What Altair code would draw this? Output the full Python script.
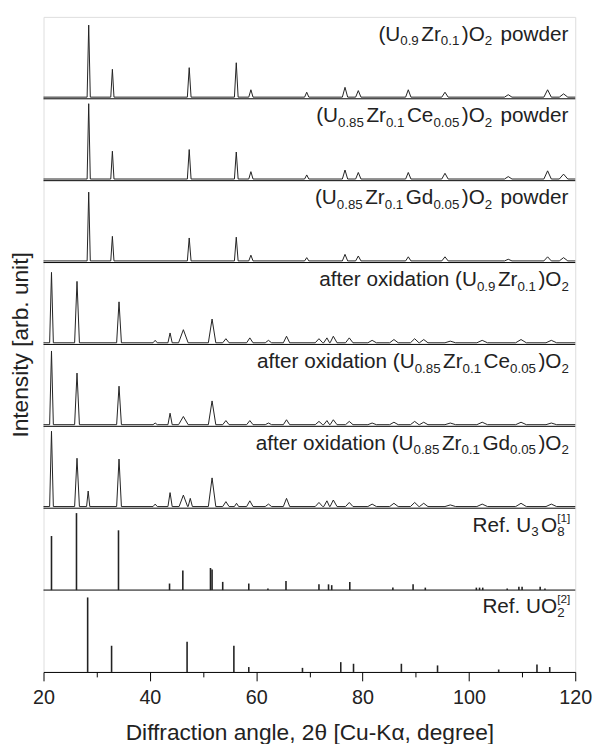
import altair as alt
import pandas as pd

# ---------------- data ----------------
# powder patterns: peak centre [deg], height [fraction of panel], half-width [deg]
pw_c = [28.5, 32.95, 47.4, 56.25, 59.0, 69.5, 76.7, 79.2, 88.6, 95.5, 107.4, 114.8, 117.8]
pw_w = [0.3, 0.3, 0.35, 0.35, 0.4, 0.4, 0.5, 0.5, 0.5, 0.6, 0.7, 0.7, 0.8]
p1_h = [0.88, 0.34, 0.36, 0.42, 0.09, 0.06, 0.12, 0.08, 0.09, 0.06, 0.03, 0.09, 0.04]
p2_h = [0.92, 0.34, 0.36, 0.33, 0.09, 0.05, 0.11, 0.08, 0.08, 0.07, 0.03, 0.10, 0.06]
p3_h = [0.84, 0.30, 0.28, 0.29, 0.07, 0.04, 0.08, 0.06, 0.05, 0.05, 0.02, 0.05, 0.04]

# oxidised patterns
ox_c = [21.5, 26.3, 34.2, 41.0, 43.8, 46.3, 51.7, 54.3, 58.8, 62.3, 65.7, 71.8,
        73.3, 74.5, 77.5, 81.8, 85.9, 89.8, 91.5, 96.5, 102.5, 109.8, 115.5]
ox_w = [0.35, 0.45, 0.45, 0.4, 0.4, 0.9, 0.7, 0.6, 0.6, 0.6, 0.6, 0.7,
        0.6, 0.7, 0.7, 0.8, 0.8, 0.8, 0.8, 1.0, 1.0, 1.0, 1.0]
p4_h = [0.86, 0.75, 0.50, 0.03, 0.12, 0.16, 0.29, 0.05, 0.06, 0.03, 0.08, 0.05,
        0.06, 0.08, 0.06, 0.03, 0.04, 0.05, 0.04, 0.02, 0.03, 0.04, 0.03]
p5_h = [0.90, 0.63, 0.47, 0.02, 0.14, 0.10, 0.29, 0.05, 0.05, 0.02, 0.06, 0.04,
        0.05, 0.06, 0.04, 0.02, 0.03, 0.04, 0.03, 0.02, 0.03, 0.03, 0.02]
p6_c = [21.5, 26.3, 28.4, 34.2, 41.0, 43.8, 46.3, 47.6, 51.7, 54.3, 56.3, 58.8, 62.3,
        65.7, 71.8, 73.3, 74.5, 77.5, 81.8, 85.9, 89.8, 91.5, 96.5, 102.5, 109.8, 115.5]
p6_w = [0.35, 0.45, 0.3, 0.45, 0.4, 0.4, 0.8, 0.4, 0.7, 0.6, 0.4, 0.6, 0.6,
        0.6, 0.7, 0.6, 0.7, 0.7, 0.8, 0.8, 0.8, 0.8, 1.0, 1.0, 1.0, 1.0]
p6_h = [0.92, 0.59, 0.19, 0.58, 0.03, 0.17, 0.14, 0.10, 0.35, 0.06, 0.04, 0.07, 0.03,
        0.10, 0.05, 0.07, 0.08, 0.05, 0.03, 0.04, 0.05, 0.04, 0.02, 0.03, 0.04, 0.03]

# reference stick patterns
u3o8_c = [21.5, 26.2, 34.1, 43.7, 46.2, 51.4, 51.7, 53.7, 58.6, 62.2, 65.6, 71.8, 73.6,
          74.2, 77.6, 85.7, 89.5, 91.8, 101.4, 102.0, 102.6, 107.2, 109.4, 110.0, 113.4, 114.3]
u3o8_h = [0.66, 0.94, 0.73, 0.08, 0.24, 0.27, 0.25, 0.10, 0.08, 0.02, 0.11, 0.07, 0.07,
          0.06, 0.10, 0.03, 0.07, 0.03, 0.03, 0.03, 0.03, 0.02, 0.04, 0.04, 0.04, 0.02]
uo2_c = [28.3, 32.8, 47.0, 55.8, 58.6, 68.7, 75.9, 78.3, 87.3, 94.1, 105.6, 112.8, 115.2]
uo2_h = [0.91, 0.32, 0.37, 0.32, 0.06, 0.05, 0.12, 0.10, 0.10, 0.08, 0.03, 0.09, 0.06]

x_ticks = list(range(20, 121, 10))
separators = [1, 2, 3, 4, 5, 6, 7]

# panel labels: (text, kind)  m = main, s = subscript, p = superscript stacked on previous subscript
labels = [
    [("(U", "m"), ("0.9", "s"), ("Zr", "m"), ("0.1", "s"), (")O", "m"), ("2", "s"), (" powder", "m")],
    [("(U", "m"), ("0.85", "s"), ("Zr", "m"), ("0.1", "s"), ("Ce", "m"), ("0.05", "s"), (")O", "m"), ("2", "s"), (" powder", "m")],
    [("(U", "m"), ("0.85", "s"), ("Zr", "m"), ("0.1", "s"), ("Gd", "m"), ("0.05", "s"), (")O", "m"), ("2", "s"), (" powder", "m")],
    [("after oxidation (U", "m"), ("0.9", "s"), ("Zr", "m"), ("0.1", "s"), (")O", "m"), ("2", "s")],
    [("after oxidation (U", "m"), ("0.85", "s"), ("Zr", "m"), ("0.1", "s"), ("Ce", "m"), ("0.05", "s"), (")O", "m"), ("2", "s")],
    [("after oxidation (U", "m"), ("0.85", "s"), ("Zr", "m"), ("0.1", "s"), ("Gd", "m"), ("0.05", "s"), (")O", "m"), ("2", "s")],
    [("Ref. U", "m"), ("3", "s"), ("O", "m"), ("8", "s"), ("[1]", "p")],
    [("Ref. UO", "m"), ("2", "s"), ("[2]", "p")],
]
right_margin_px = [7, 7, 7, 4, 4, 4, 5, 5]

# ---------------- layout constants ----------------
W, H = 539, 664
PANEL_PX = H / 8.0
PPU = W / 100.0
S, SS, SP = 21, 13.5, 12
GAP = 2.5
BASE = 0.02

# ---------------- build tables ----------------
line_rows = []
def add_pattern(panel, cs, hs, ws):
    off = 7 - panel
    pts = [(20.0, off + BASE), (120.0, off + BASE)]
    for c, h, w in zip(cs, hs, ws):
        pts += [(c - w, off + BASE), (c, off + BASE + h), (c + w, off + BASE)]
    for x, y in sorted(pts):
        line_rows.append({"panel": panel, "x": x, "y": y})

add_pattern(0, pw_c, p1_h, pw_w)
add_pattern(1, pw_c, p2_h, pw_w)
add_pattern(2, pw_c, p3_h, pw_w)
add_pattern(3, ox_c, p4_h, ox_w)
add_pattern(4, ox_c, p5_h, ox_w)
add_pattern(5, p6_c, p6_h, p6_w)
lines_df = pd.DataFrame(line_rows)

stick_rows = []
for panel, cs, hs in [(6, u3o8_c, u3o8_h), (7, uo2_c, uo2_h)]:
    off = 7 - panel
    for c, h in zip(cs, hs):
        stick_rows.append({"x": c, "y": off, "y2": off + h})
sticks_df = pd.DataFrame(stick_rows)

sep_df = pd.DataFrame({"y": separators})

# Arial / Liberation Sans advance widths (1/1000 em)
AW = {" ": 278, "(": 333, ")": 333, ".": 278, "[": 278, "]": 278,
      "U": 722, "Z": 611, "O": 778, "C": 722, "G": 778, "R": 722,
      "a": 556, "d": 556, "e": 556, "f": 278, "i": 222, "n": 556,
      "o": 556, "p": 556, "r": 333, "t": 278, "w": 722, "x": 500}
def tw(t, size):
    return sum(AW.get(ch, 556) for ch in t) * size / 1000.0

SIZE = {"m": S, "s": SS, "p": SP}
SHIFT = {"m": 0, "s": 4.5, "p": -10}

text_rows = []
for i, segs in enumerate(labels):
    top = 8 - i
    base_px = 24 if i < 7 else 23
    pos = 0.0
    items = []
    prev_left = 0.0
    for t, kind in segs:
        w = tw(t, SIZE[kind])
        if kind == "p":
            items.append((t, prev_left, w, kind))
            pos = max(pos, prev_left + w)
        else:
            items.append((t, pos, w, kind))
            prev_left = pos
            pos += w + (GAP if kind == "s" else 0)
    total = pos
    for t, left, w, kind in items:
        right_px = right_margin_px[i] + total - (left + w)
        x = 120 - right_px / PPU
        ypx = base_px + SHIFT[kind]
        text_rows.append({"x": x, "y": top - ypx / PANEL_PX, "t": t, "fs": SIZE[kind]})
text_df = pd.DataFrame(text_rows)

# ---------------- chart ----------------
xs = alt.Scale(domain=[20, 120], nice=False, zero=False)
ys = alt.Scale(domain=[0, 8], nice=False, zero=False)
FONT = "Liberation Sans"
INK = "#222222"

x_axis = alt.Axis(
    values=x_ticks,
    labelExpr="datum.value % 20 === 0 ? datum.label : ''",
    tickSize={"condition": {"test": "datum.value % 20 === 0", "value": 9}, "value": 5},
    grid=False, labelFlush=False, labelOverlap=False,
    labelFontSize=20, labelFont=FONT, labelColor=INK, labelPadding=7,
    tickColor="#000", domainColor="#000",
    title="Diffraction angle, 2θ [Cu-Kα, degree]",
    titleFontSize=23, titleFont=FONT, titleFontWeight="normal", titleColor=INK, titlePadding=14,
)
y_axis = alt.Axis(
    title="Intensity [arb. unit]", labels=False, ticks=False, domain=False, grid=False,
    titleFontSize=23, titleFont=FONT, titleFontWeight="normal", titleColor=INK, titlePadding=11,
)

sep = alt.Chart(sep_df).mark_rule(color="#000", strokeWidth=1).encode(
    y=alt.Y("y:Q", scale=ys, axis=y_axis)
)
lines = alt.Chart(lines_df).mark_line(color=INK, strokeWidth=1).encode(
    x=alt.X("x:Q", scale=xs, axis=x_axis),
    y=alt.Y("y:Q", scale=ys),
    detail="panel:N",
)
sticks = alt.Chart(sticks_df).mark_rule(color=INK, strokeWidth=1.6).encode(
    x=alt.X("x:Q", scale=xs),
    y=alt.Y("y:Q", scale=ys),
    y2="y2:Q",
)
texts = alt.Chart(text_df).mark_text(align="right", baseline="alphabetic", font=FONT, color=INK).encode(
    x=alt.X("x:Q", scale=xs),
    y=alt.Y("y:Q", scale=ys),
    text="t:N",
    size=alt.Size("fs:Q", scale=None),
)

chart = alt.layer(sep, lines, sticks, texts).properties(
    width=W, height=H,
    padding={"left": 36, "top": 4, "right": 19, "bottom": 68},
    autosize=alt.AutoSizeParams(type="none"),
).configure_view(stroke="#000", strokeWidth=1).configure(background="white")

chart.save("out.html", embed_options={"renderer": "svg", "actions": False})
